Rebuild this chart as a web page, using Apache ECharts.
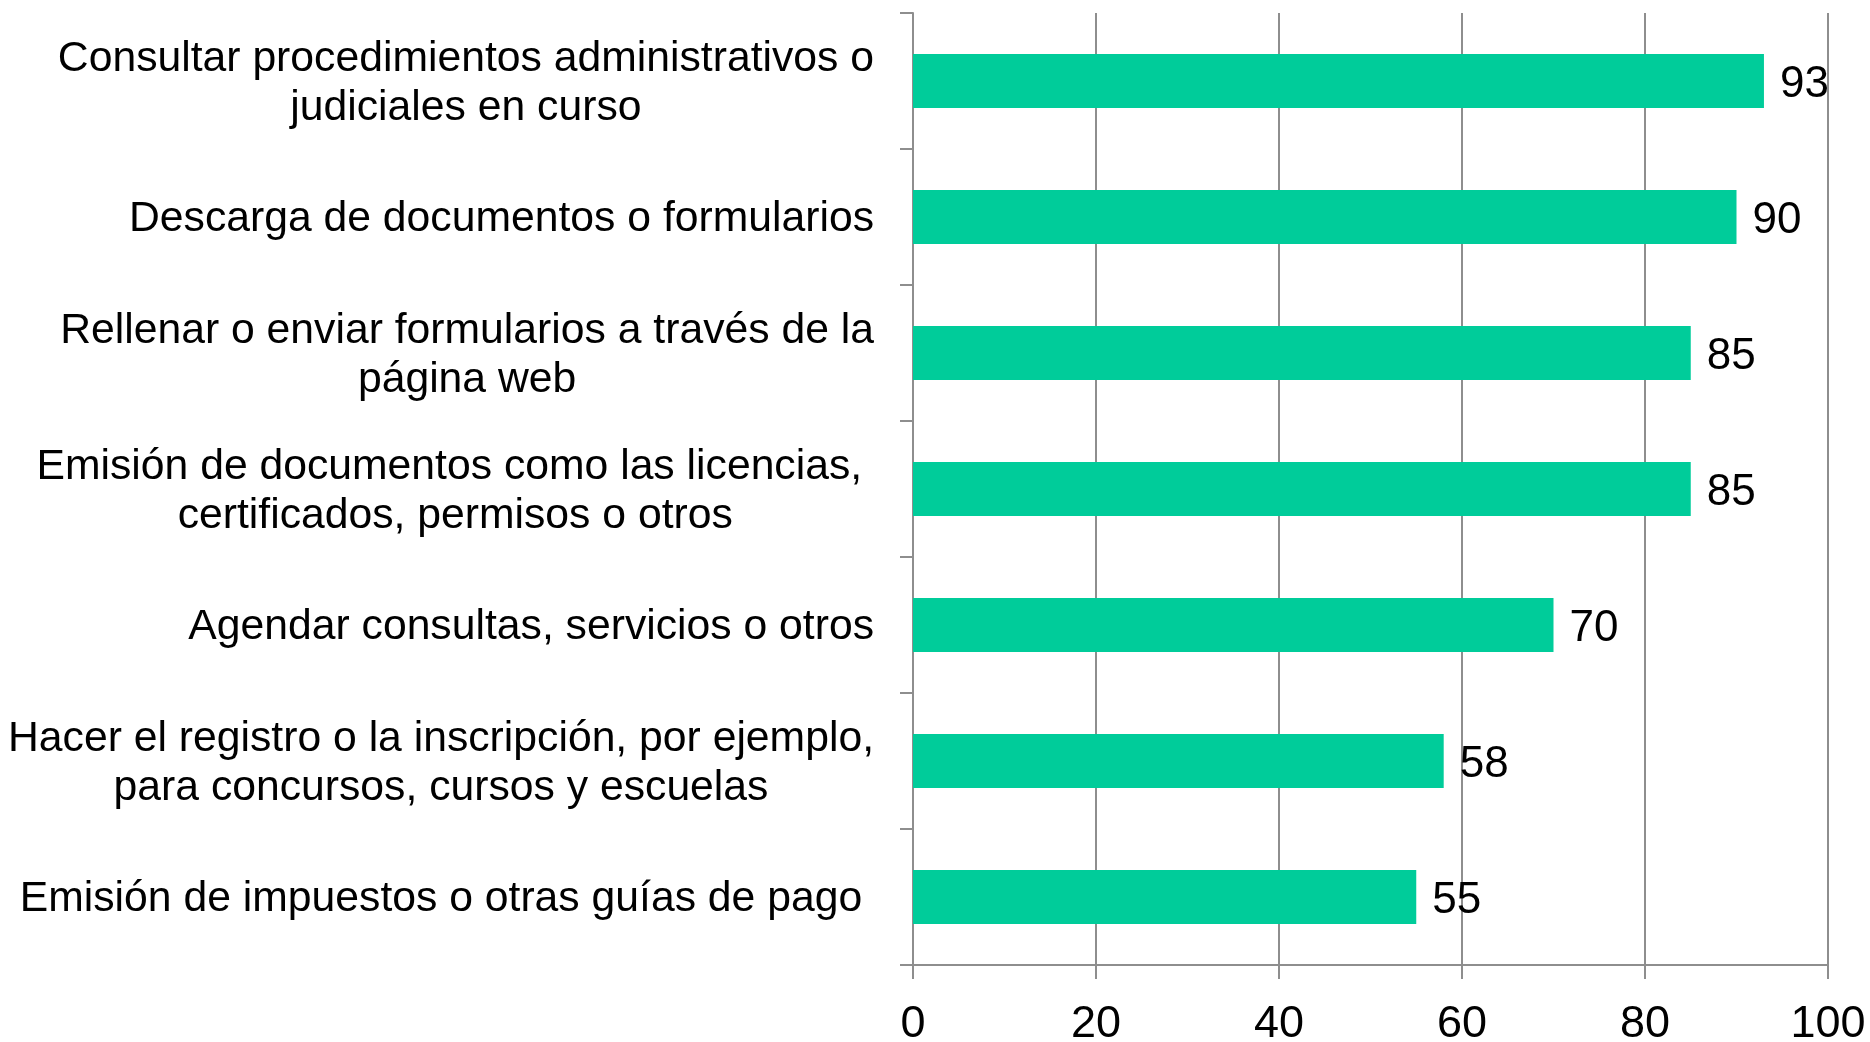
<!DOCTYPE html>
<html>
<head>
<meta charset="utf-8">
<script src="https://cdn.jsdelivr.net/npm/echarts@6/dist/echarts.min.js"></script>
<style>
  html, body { margin: 0; padding: 0; background: #fff; }
  #chart { width: 1870px; height: 1042px; }
</style>
</head>
<body>
<div id="chart"></div>
<script>
// categories, top to bottom
var categorias = [
    'Consultar procedimientos administrativos o\njudiciales en curso',
    'Descarga de documentos o formularios',
    'Rellenar o enviar formularios a través de la\npágina web',
    'Emisión de documentos como las licencias, \ncertificados, permisos o otros',
    'Agendar consultas, servicios o otros',
    'Hacer el registro o la inscripción, por ejemplo,\npara concursos, cursos y escuelas',
    'Emisión de impuestos o otras guías de pago '
];
var valores = [93, 90, 85, 85, 70, 58, 55];
var ejeMin = 0, ejeMax = 100, ejeIntervalo = 20;

var gris = '#8e8e8e';
var fuente = '"Liberation Sans", Arial, sans-serif';
var myChart = echarts.init(document.getElementById('chart'));

option = {
    animation: false,
    textStyle: { fontFamily: fuente },
    grid: { left: 913, right: 42, top: 13, bottom: 77, containLabel: false, outerBoundsMode: 'none' },
    xAxis: {
        type: 'value',
        min: ejeMin,
        max: ejeMax,
        interval: ejeIntervalo,
        axisLine: { show: true, lineStyle: { color: gris, width: 2 } },
        axisTick: { show: true, length: 14, lineStyle: { color: gris, width: 2 } },
        splitLine: { show: true, lineStyle: { color: gris, width: 2 } },
        axisLabel: { color: '#000', fontSize: 45, margin: 37, fontFamily: fuente }
    },
    yAxis: {
        type: 'category',
        inverse: true,
        data: categorias,
        axisLine: { show: true, lineStyle: { color: gris, width: 2 } },
        axisTick: { show: true, length: 13, lineStyle: { color: gris, width: 2 } },
        axisLabel: {
            margin: 39,
            align: 'right',
            padding: [5, 0, 0, 0],
            formatter: function (v) {
                return v.split('\n').map(function (l) { return '{c|' + l + '}'; }).join('\n');
            },
            rich: {
                c: { align: 'center', fontSize: 42.7, lineHeight: 49, color: '#000', fontFamily: fuente }
            }
        }
    },
    series: [{
        type: 'bar',
        data: valores,
        barWidth: 54,
        itemStyle: { color: '#00cc9a' },
        label: {
            show: true,
            position: 'right',
            distance: 16,
            offset: [0, 4],
            color: '#000',
            fontSize: 44,
            fontFamily: fuente
        }
    }]
};

myChart.setOption(option);
</script>
</body>
</html>
